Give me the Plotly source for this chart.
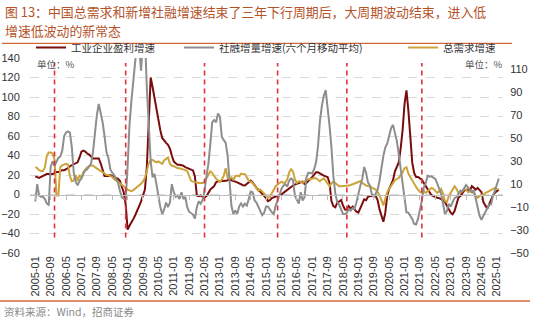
import pandas as pd
import plotly.graph_objects as go

# ---------------- data ----------------
MONTHS = [d.strftime("%Y-%m") for d in pd.date_range("2005-01-01", "2025-02-01", freq="MS")]

PROFIT = [  # 工业企业盈利增速 (left axis)
    18.6, 17.6, 17, 18, 19, 20, 21, 21, 21, 21,
    22, 23, 23, 24, 25, 25, 26, 27, 29, 30,
    31, 32, 33, 38, 44, 45, 44, 42, 41, 39,
    37, 37, 37, 37, 32, 25, 19, 19, 19, 20,
    19, 17, 17, 16, 14, 8, 2, -10, -36, -32,
    -29, -25, -21, -17, -12, -7, -2, 5, 28, 75,
    120, 110, 98, 87, 75, 66, 58, 55, 53, 51,
    47, 40, 34, 32, 30.5, 30.5, 30, 29.5, 28, 27,
    26, 25.4, 24.7, 18.6, -1, -1.7, -1, -2.4, -2.7, -1.7,
    1.7, 5, 6.8, 8.5, 12.5, 13.6, 13.6, 13.6, 13.6, 14,
    14.6, 15.3, 14.6, 13.6, 13.2, 12.5, 11.2, 10.2, 9.5, 9.2,
    10.8, 12.5, 14.2, 12.5, 9.2, 6.8, 5, 3, 1, -1.7,
    -3.7, -6.8, -5.8, -3.7, -3, -1.7, -1.7, -1, 0, 1.7,
    3.4, 4.4, 5.8, 7.8, 9.2, 10.2, 11.2, 11.9, 12.5, 13.2,
    10.8, 11.9, 13.6, 15.9, 18, 20.3, 22.7, 22.7, 21.4, 20.3,
    19.3, 18.6, 18, 11.9, -6.8, -11.9, -13.2, -8.5, -6.8, -5.8,
    -11.2, -15.3, -16, -11.9, -14.6, -12.5, -15.3, -17.6, -18.6, -14.2,
    -9.2, -5, -5.8, -2.4, -1.7, -1, -1, -1.7, -5.8, -15.3,
    -22, -28, -18.6, -1, 5.8, 11.2, 14.6, 23.7, 28.8, 32.9,
    47.5, 66, 93, 106.8, 86, 56.6, 32.9, 22, 18, 18,
    17, 15.3, 11.9, 8.5, 5, 1.7, -0.7, -1.7, -3, -3.4,
    -3.7, -4.4, -5.8, -7.8, -11.2, -15.3, -18.6, -20.3, -17, -10.2,
    -3.4, -1.7, 1.7, 4, 5, 5, 4, 8.5, 6.8, 5,
    6.8, 5, 2.4, -7.8, -11.9, -14.6, -10.2, -5, -0.7, 1.7,
    3.4, 5,
]

TSF = [  # 社融增量增速(六个月移动平均) (right axis)
    -5, 10, 0, -1, -1, -3, -7, -8, 25, 30,
    26, 30, 33, 34, 39, 52, 55, 56, 55, 42,
    20, 12, 9, 13, 15, 19, 22, 23, 25, 28,
    38, 57, 70, 80, 73, 64, 52, 38, 33, 23,
    20, 18, 14.5, 11.6, 4.3, -1.4, -3, -3, 25, 62,
    83, 103, 125, 135, 130, 109, 135, 140, 94, 62,
    30, 16, 19, 10, -1, -10, -16, -12, -6, -10,
    -6, 10, 3, -1, 0, -3, 3, -3, -1, -10,
    -14, -15, -16.5, -20, -10, -5, -7, -4, 4, 17,
    27.5, 45, 64, 66, 64, 71.6, 69, 51, 49, 46,
    35, 14.5, -9, -16, -13, -16, -9.5, -6.7, -9.5, -7,
    -8.7, -3, 3.5, 3, -4, -6, -10, -13.6, -17, -15,
    -9.5, -9.5, -12.5, -14.5, -16, -8.7, -4.3, 1.4, 5.8, 8.7,
    10, 7.8, 13, 15, 13.6, 0, -3, -7, 3, -4.3,
    -1.4, 16, 20, 20, 19.4, 23, 29, 43, 65, 78,
    87, 92, 78, 61, 42, 17, 2, -5.8, -7.8, -12.5,
    -16, -16, -15, -11.6, -13, -10.7, -11.6, -5.8, 2.9, 8.7,
    14.5, 25, 20, 11.6, 8.7, 1.4, -1.4, 1.4, 4.9, 13,
    24.6, 34.8, 42, 45.5, 52, 58.8, 61.7, 53.6, 47.8, 36.2,
    23.2, 11.6, -4.3, -14.5, -14.8, -17.4, -20.3, -24.6, -25.2, -20.3,
    -13.6, -4.3, 7.2, 10.7, 17.4, 16.5, 16.8, 16, 14.5, 10.7,
    6.7, 1.4, -6.7, -16, -13.6, -7.2, -9.6, -4.9, -2, -1.4,
    1.4, 4.3, 3.8, 7.2, 9.3, 7.2, 4.9, 2.9, 4.9, -2.9,
    -12.5, -17.4, -21, -17.7, -14.5, -11, -7.8, -7.8, 0, 4.3,
    10, 15,
]

DEMAND = [  # 总需求增速 (left axis)
    28, 27, 25, 24, 24, 28, 40, 43, 43, 42,
    36, -1, -1, 28, 30, 31, 31.5, 30.5, 19, 13.5,
    14.5, 20, 14, 20, 17, 23, 26, 28, 29, 30,
    29.5, 28, 27, 25, 24, 23, 21, 20, 20, 19,
    18, 16, 14.5, 13, 12, 10, 8.5, 7, 5, 4.5,
    3.5, 4.5, 6, 7.5, 9, 11, 13.5, 17, 24, 32,
    35, 35.5, 34, 33, 34, 33, 31.5, 35, 37, 38,
    31.5, 29.5, 29, 28, 27, 27, 26.5, 25.5, 25, 24,
    19, 14, 13.2, 12.5, 11.9, 11.9, 11.9, 11.9, 13.2, 17,
    20.3, 23.7, 22, 18.6, 16, 14.6, 12.9, 15.3, 19.3, 27,
    17, 16, 17.6, 15.3, 18.6, 19.3, 18.6, 21.4, 20.7, 21,
    17, 14, 13.2, 11.9, 9.2, 5.8, 3.7, 5, 3, 1,
    -1.7, -3.4, -2.4, 1, 5.8, 8.5, 10.2, 11.9, 13.2, 11.9,
    12.5, 15.3, 22.7, 26, 23.7, 15.3, 11.9, 13.6, 13.2, 11.9,
    13.2, 15.3, 15.3, 15.9, 15.9, 17, 16.6, 15.3, 13.6, 15.3,
    16.6, 14.2, 11.9, 8.5, 11.2, 13.6, 11.9, 9.8, 8.5, 8.5,
    8.5, 9.2, 8.5, 9.2, 9.8, 10.5, 11.5, 12.2, 12.9, 13.6,
    11.9, 10.2, 9.2, 8.8, 8.5, 7.1, 6.1, 5.1, 2.7, -1,
    -5.8, -11.2, -5, 2.4, 5.8, 9.2, 11.9, 14.6, 15.9, 17,
    20.3, 22.7, 27, 28, 21.4, 17.6, 14.6, 11.2, 7.8, 5.1,
    2.7, 1.7, 3.4, 1.7, 3.4, 5.1, 6.8, 5.8, 3.4, 1.7,
    3.4, 5.8, 1, -6.8, -7.8, -1.7, 1.7, 5.8, 8.5, 5.8,
    1.7, 1.7, 3.4, 5.1, 5.1, 2.4, 3, 3.4, 1, -1.7,
    -3.4, -1.7, -0.3, -1, 1.7, 2.4, 3.7, 4.7, 5.8, 6.8,
    5.8, 5.1,
]

TICK_LABELS = [
    "2005-01", "2005-09", "2006-05", "2007-01", "2007-09", "2008-05", "2009-01",
    "2009-09", "2010-05", "2011-01", "2011-09", "2012-05", "2013-01", "2013-09",
    "2014-05", "2015-01", "2015-09", "2016-05", "2017-01", "2017-09", "2018-05",
    "2019-01", "2019-09", "2020-05", "2021-01", "2021-09", "2022-05", "2023-01",
    "2023-09", "2024-05", "2025-01",
]
LEFT_TICKS = [-60, -40, -20, 0, 20, 40, 60, 80, 100, 120, 140]
RIGHT_TICKS = [-50, -30, -10, 10, 30, 50, 70, 90, 110]
CYCLE_MARKS = ["2005-11", "2008-12", "2012-05", "2015-07", "2018-07", "2021-10"]

TITLE_1 = "图 13：中国总需求和新增社融增速结束了三年下行周期后，大周期波动结束，进入低"
TITLE_2 = "增速低波动的新常态"
SOURCE = "资料来源：Wind，招商证券"
UNIT = "单位：%"

# ---------------- layout geometry ----------------
W, H = 550, 322
ML, MR, MT, MB = 30, 47, 58, 69
PW, PH = W - ML - MR, H - MT - MB


def fx(p):
    return (p - ML) / PW


def fy(p):
    return (H - MB - p) / PH


RED = "#7B0C0C"
GRAY = "#8E8E8E"
GOLD = "#CDA43A"
DASH_RED = "#E0323C"
ORANGE = "#D2683A"
TXT = "#333333"
CJK = "Noto Sans CJK SC"
LAT = "Liberation Sans, Arial, Noto Sans CJK SC"

fig = go.Figure()
fig.add_trace(go.Scatter(x=MONTHS, y=PROFIT, name="工业企业盈利增速", mode="lines",
                         line=dict(color=RED, width=2), legend="legend"))
fig.add_trace(go.Scatter(x=MONTHS, y=TSF, name="社融增量增速(六个月移动平均)", mode="lines",
                         line=dict(color=GRAY, width=2), xaxis="x2", yaxis="y2", legend="legend2"))
fig.add_trace(go.Scatter(x=MONTHS, y=DEMAND, name="总需求增速", mode="lines",
                         line=dict(color=GOLD, width=2), legend="legend3"))

xr = [-2.75, 243.2]
shapes = []
for d in CYCLE_MARKS:
    i = MONTHS.index(d)
    shapes.append(dict(type="line", xref="x", yref="y", x0=i, x1=i, y0=-44, y1=135,
                       line=dict(color=DASH_RED, width=1.6, dash="5px,4px"), layer="above"))
shapes.append(dict(type="line", xref="paper", yref="paper", x0=fx(2), x1=fx(512), y0=fy(43.3), y1=fy(43.3),
                   line=dict(color=ORANGE, width=1.3)))
shapes.append(dict(type="line", xref="paper", yref="paper", x0=fx(0), x1=fx(530), y0=fy(301), y1=fy(301),
                   line=dict(color=ORANGE, width=1.3)))

annotations = [
    dict(text=TITLE_1, x=fx(3), y=fy(11.5), xref="paper", yref="paper", xanchor="left", yanchor="middle",
         showarrow=False, font=dict(family=CJK, size=12.9, color="#B4532A")),
    dict(text=TITLE_2, x=fx(3), y=fy(30.5), xref="paper", yref="paper", xanchor="left", yanchor="middle",
         showarrow=False, font=dict(family=CJK, size=12.9, color="#B4532A")),
    dict(text=UNIT, x=fx(35), y=fy(63.5), xref="paper", yref="paper", xanchor="left", yanchor="middle",
         showarrow=False, font=dict(family=CJK, size=9.5, color="#555")),
    dict(text=UNIT, x=fx(463), y=fy(63.5), xref="paper", yref="paper", xanchor="left", yanchor="middle",
         showarrow=False, font=dict(family=CJK, size=9.5, color="#555")),
    dict(text=SOURCE, x=fx(2), y=fy(311.5), xref="paper", yref="paper", xanchor="left", yanchor="middle",
         showarrow=False, font=dict(family=CJK, size=10.5, color="#8a8a8a")),
]

leg_common = dict(orientation="h", xanchor="left", yanchor="middle", y=fy(47.5),
                  bgcolor="rgba(0,0,0,0)", borderwidth=0, itemwidth=30,
                  font=dict(family=CJK, size=10.5, color=TXT))

fig.update_layout(
    width=W, height=H, margin=dict(l=ML, r=MR, t=MT, b=MB, autoexpand=False),
    paper_bgcolor="white", plot_bgcolor="white",
    font=dict(family=LAT, color=TXT),
    showlegend=True,
    legend=dict(x=fx(31), **leg_common),
    legend2=dict(x=fx(179), **leg_common),
    legend3=dict(x=fx(403), **leg_common),
    xaxis=dict(type="category", range=xr, tickmode="array", tickvals=TICK_LABELS, ticktext=TICK_LABELS,
               tickangle=-90, tickfont=dict(size=11, family=LAT, color=TXT), showgrid=False,
               showline=False, zeroline=False, ticks="", automargin=False),
    xaxis2=dict(type="category", range=xr, overlaying="x", anchor="free", position=0.3,
                tickmode="array", tickvals=TICK_LABELS, showticklabels=False,
                ticks="outside", ticklen=4, tickcolor="#bdbdbd", showline=True, linecolor="#bdbdbd",
                linewidth=1, showgrid=False, zeroline=False, automargin=False),
    yaxis=dict(range=[-60, 140], tickmode="array", tickvals=LEFT_TICKS, showgrid=True,
               gridcolor="#d9d9d9", griddash="dash", gridwidth=1, zeroline=False,
               ticks="outside", ticklen=7, tickcolor="rgba(0,0,0,0)", automargin=False,
               tickfont=dict(size=11, family=LAT, color=TXT)),
    yaxis2=dict(range=[-50, 120], overlaying="y", side="right", anchor="x", tickmode="array",
                tickvals=RIGHT_TICKS, showgrid=False, zeroline=False, automargin=False,
                ticks="outside", ticklen=4, tickcolor="rgba(0,0,0,0)",
                tickfont=dict(size=11, family=LAT, color=TXT)),
    shapes=shapes,
    annotations=annotations,
)

fig.write_html("out.html")
